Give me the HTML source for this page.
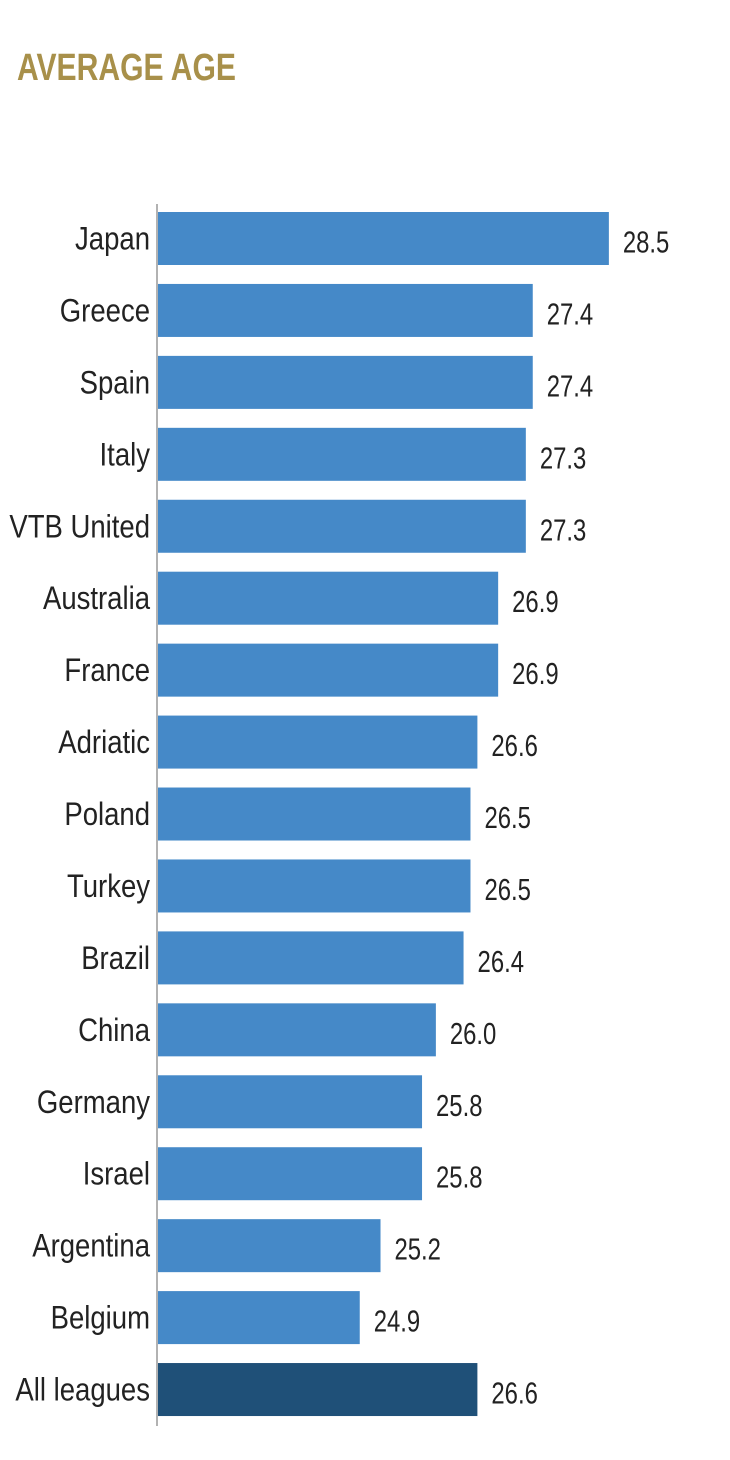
<!DOCTYPE html>
<html><head><meta charset="utf-8"><style>
html,body{margin:0;padding:0;background:#fff;width:730px;height:1460px;overflow:hidden}
svg text{font-family:"Liberation Sans",sans-serif}
</style></head><body>
<svg id="chart" width="730" height="1460" xmlns="http://www.w3.org/2000/svg">
<text x="17" y="80" font-size="38" font-weight="bold" fill="#a8904a" textLength="219" lengthAdjust="spacingAndGlyphs">AVERAGE AGE</text>
<line x1="157" y1="204" x2="157" y2="1426" stroke="#999" stroke-width="1.5"/>
<g id="bars"></g>
</svg>
<script>
const categories=["Japan","Greece","Spain","Italy","VTB United","Australia","France","Adriatic","Poland","Turkey","Brazil","China","Germany","Israel","Argentina","Belgium","All leagues"];
const values=[28.5,27.4,27.4,27.3,27.3,26.9,26.9,26.6,26.5,26.5,26.4,26.0,25.8,25.8,25.2,24.9,26.6];
const labels=["28.5","27.4","27.4","27.3","27.3","26.9","26.9","26.6","26.5","26.5","26.4","26.0","25.8","25.8","25.2","24.9","26.6"];
const X0=157,MIN=21.97,K=69.2,Y0=212,STEP=71.94,BH=53;
function xs(v){return X0+(v-MIN)*K}
function ys(i){return Y0+i*STEP}
const g=document.getElementById('bars');
const NS="http://www.w3.org/2000/svg";
categories.forEach((c,i)=>{
  const y=ys(i),w=xs(values[i])-X0;
  const r=document.createElementNS(NS,'rect');
  r.setAttribute('x',X0+1);r.setAttribute('y',y);r.setAttribute('width',w-1);r.setAttribute('height',BH);
  r.setAttribute('fill',i===categories.length-1?'#1f5078':'#4589c8');
  
  
  g.appendChild(r);
  const t=document.createElementNS(NS,'text');
  t.setAttribute('transform','translate(150,'+(y+BH/2+11)+') scale(0.86,1)');
  t.setAttribute('text-anchor','end');
  t.setAttribute('font-size','32');t.setAttribute('fill','#222');t.textContent=c;
  
  
  g.appendChild(t);
  const v=document.createElementNS(NS,'text');
  v.setAttribute('transform','translate('+(xs(values[i])+14)+','+(y+BH/2+14)+') scale(0.77,1)');
  v.setAttribute('font-size','31');v.setAttribute('fill','#222');v.textContent=labels[i];
  
  
  g.appendChild(v);
});
</script>
</body></html>
